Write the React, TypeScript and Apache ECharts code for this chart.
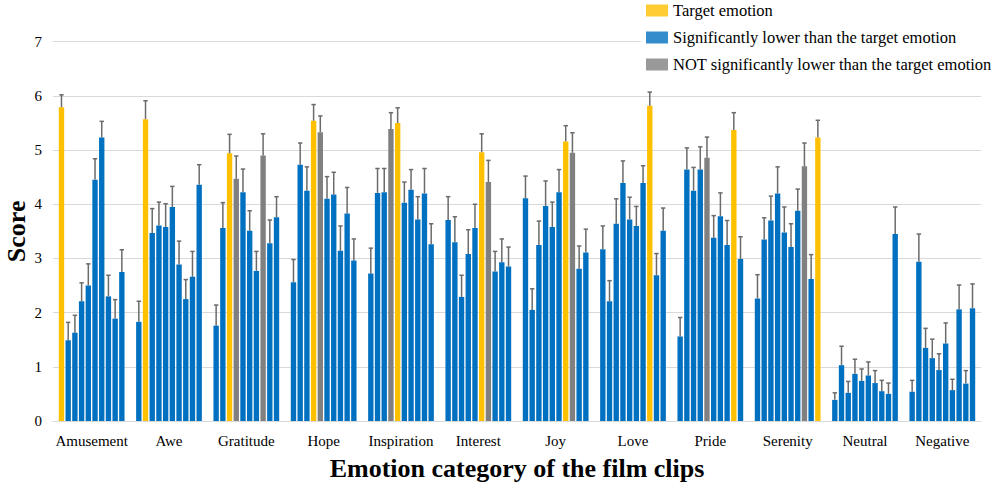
import React, { useEffect, useRef } from "react";
import * as echarts from "echarts";

const categories = ["Amusement", "Awe", "Gratitude", "Hope", "Inspiration", "Interest", "Joy", "Love", "Pride", "Serenity", "Neutral", "Negative"];
const ratedEmotions = ["Amusement", "Awe", "Gratitude", "Hope", "Inspiration", "Interest", "Joy", "Love", "Pride", "Serenity"];

// mean scores: one row per film-clip category, one column per rated emotion
const meanAmusement = [5.79, 1.49, 1.63, 2.21, 2.5, 4.45, 5.23, 2.3, 1.89, 2.75];
const meanAwe = [1.83, 5.57, 3.47, 3.61, 3.58, 3.95, 2.89, 2.25, 2.66, 4.36];
const meanGratitude = [1.76, 3.56, 4.94, 4.47, 4.22, 3.51, 2.77, 4.9, 3.28, 3.76];
const meanHope = [2.56, 4.73, 4.25, 5.54, 5.33, 4.1, 4.18, 3.14, 3.83, 2.96];
const meanInspiration = [2.72, 4.21, 4.22, 5.39, 5.5, 4.03, 4.27, 3.72, 4.2, 3.26];
const meanInterest = [3.71, 3.3, 2.29, 3.08, 3.56, 4.96, 4.41, 2.76, 2.93, 2.85];
const meanJoy = [4.11, 2.05, 3.25, 3.97, 3.58, 4.22, 5.16, 4.95, 2.81, 3.11];
const meanLove = [3.17, 2.21, 3.64, 4.39, 3.72, 3.6, 4.39, 5.82, 2.69, 3.51];
const meanPride = [1.56, 4.64, 4.25, 4.64, 4.86, 3.38, 3.78, 3.25, 5.37, 2.99];
const meanSerenity = [2.26, 3.35, 3.7, 4.2, 3.48, 3.21, 3.88, 4.7, 2.62, 5.23];
const meanNeutral = [0.39, 1.03, 0.52, 0.87, 0.74, 0.84, 0.7, 0.55, 0.5, 3.45];
const meanNegative = [0.54, 2.94, 1.35, 1.16, 0.94, 1.43, 0.57, 2.06, 0.69, 2.08];

// error bar sizes
const errAmusement = [0.23, 0.33, 0.32, 0.34, 0.4, 0.39, 0.3, 0.39, 0.35, 0.41];
const errAwe = [0.38, 0.34, 0.45, 0.43, 0.43, 0.38, 0.43, 0.36, 0.47, 0.37];
const errGratitude = [0.38, 0.47, 0.35, 0.42, 0.43, 0.37, 0.36, 0.4, 0.43, 0.38];
const errHope = [0.42, 0.4, 0.44, 0.3, 0.3, 0.41, 0.41, 0.46, 0.48, 0.4];
const errInspiration = [0.47, 0.45, 0.44, 0.3, 0.28, 0.38, 0.37, 0.42, 0.46, 0.38];
const errInterest = [0.43, 0.47, 0.4, 0.45, 0.44, 0.34, 0.4, 0.37, 0.43, 0.36];
const errJoy = [0.41, 0.39, 0.44, 0.46, 0.46, 0.42, 0.29, 0.37, 0.42, 0.43];
const errLove = [0.43, 0.38, 0.46, 0.41, 0.41, 0.36, 0.32, 0.25, 0.4, 0.42];
const errPride = [0.35, 0.4, 0.43, 0.42, 0.38, 0.41, 0.43, 0.45, 0.32, 0.41];
const errSerenity = [0.44, 0.4, 0.45, 0.49, 0.47, 0.43, 0.4, 0.43, 0.45, 0.32];
const errNeutral = [0.13, 0.35, 0.21, 0.27, 0.22, 0.25, 0.23, 0.2, 0.2, 0.5];
const errNegative = [0.21, 0.51, 0.36, 0.35, 0.3, 0.38, 0.2, 0.45, 0.24, 0.45];

// index of target emotion per category (-1: none)
const targetIndex = [0, 1, 2, 3, 4, 5, 6, 7, 8, 9, -1, -1];
// rated emotions NOT significantly lower than the target, per category
const notSignificant = [[], [], [3, 7], [4], [3], [6], [7], [], [4], [7], [], []];

const legendNames = ["Target emotion", "Significantly lower than the target emotion", "NOT significantly lower than the target emotion"];
const COLOR_TARGET = "#FFC000";
const COLOR_SIG = "#0070C0";
const COLOR_NS = "#808080";

const means = [meanAmusement, meanAwe, meanGratitude, meanHope, meanInspiration, meanInterest, meanJoy, meanLove, meanPride, meanSerenity, meanNeutral, meanNegative];
const errs = [errAmusement, errAwe, errGratitude, errHope, errInspiration, errInterest, errJoy, errLove, errPride, errSerenity, errNeutral, errNegative];

const FONT = "Liberation Serif";
const CAT_GAP = 0.15;
const BAR_GAP = 0.25;

function colorFor(c: number, s: number) {
  if (targetIndex[c] === s) return COLOR_TARGET;
  if (notSignificant[c].indexOf(s) >= 0) return COLOR_NS;
  return COLOR_SIG;
}

export default function App() {
  const ref = useRef<HTMLDivElement>(null);
  useEffect(() => {
    document.body.style.margin = "0";
    if (!ref.current) return;
    const chart = echarts.init(ref.current, null, { renderer: "svg" });
    const N = ratedEmotions.length;

    const barSeries = ratedEmotions.map((name, s) => ({
      name,
      type: "bar",
      barCategoryGap: CAT_GAP * 100 + "%",
      barGap: BAR_GAP * 100 + "%",
      data: categories.map((_, c) => ({ value: means[c][s], itemStyle: { color: colorFor(c, s) } })),
    }));

    const errData: number[][] = [];
    categories.forEach((_, c) => {
      ratedEmotions.forEach((__, s) => {
        errData.push([c, means[c][s], means[c][s] + errs[c][s], s]);
      });
    });

    const errorSeries = {
      name: "error",
      type: "custom",
      z: 3,
      encode: { x: 0, y: [1, 2] },
      data: errData,
      renderItem: (params: any, api: any) => {
        const cat = api.value(0);
        const v = api.value(1);
        const hi = api.value(2);
        const slot = api.value(3);
        const band = api.size([1, 0])[0];
        const remained = band * (1 - CAT_GAP);
        const bw = remained / (N + (N - 1) * BAR_GAP);
        const total = N * bw + (N - 1) * bw * BAR_GAP;
        const off = -total / 2 + slot * bw * (1 + BAR_GAP) + bw / 2;
        const p0 = api.coord([cat, v]);
        const p1 = api.coord([cat, hi]);
        const x = p0[0] + off;
        const st = { stroke: "#6b6b6b", lineWidth: 1.5 };
        return {
          type: "group",
          children: [
            { type: "line", shape: { x1: x, y1: p0[1], x2: x, y2: p1[1] }, style: st },
            { type: "line", shape: { x1: x - 2.2, y1: p1[1], x2: x + 2.2, y2: p1[1] }, style: st },
          ],
        };
      },
    };

    const legendSeries = legendNames.map((name, i) => ({
      name,
      type: "scatter",
      data: [],
      itemStyle: { color: [COLOR_TARGET, COLOR_SIG, COLOR_NS][i] },
    }));

    const legendText = { fontFamily: FONT, fontSize: 16.5, color: "#000" };

    chart.setOption({
      animation: false,
      textStyle: { fontFamily: FONT },
      grid: { left: 53, right: 19, top: 41.7, bottom: 66, containLabel: false, outerBoundsMode: "none" },
      legend: {
        data: legendNames.map((name) => ({ name, textStyle: legendText })),
        orient: "vertical",
        left: 641,
        top: 0,
        icon: "rect",
        itemWidth: 22,
        itemHeight: 12,
        itemGap: 10,
        padding: [2, 5, 3, 5],
        backgroundColor: "#fff",
        selectedMode: false,
        textStyle: legendText,
      },
      xAxis: {
        type: "category",
        data: categories,
        axisTick: { show: false },
        axisLine: { lineStyle: { color: "#d9d9d9", width: 1 } },
        axisLabel: { interval: 0, fontFamily: FONT, fontSize: 15, color: "#000", margin: 12 },
        name: "Emotion category of the film clips",
        nameLocation: "middle",
        nameGap: 34,
        nameMoveOverlap: false,
        nameTextStyle: { fontFamily: FONT, fontSize: 26, fontWeight: "bold", color: "#000" },
      },
      yAxis: {
        type: "value",
        min: 0,
        max: 7,
        interval: 1,
        axisLine: { show: false },
        axisTick: { show: false },
        splitLine: { lineStyle: { color: "#d9d9d9", width: 1 } },
        axisLabel: { fontFamily: FONT, fontSize: 15, color: "#000", margin: 11 },
        name: "Score",
        nameLocation: "middle",
        nameGap: 24,
        nameMoveOverlap: false,
        nameTextStyle: { fontFamily: FONT, fontSize: 26, fontWeight: "bold", color: "#000" },
      },
      series: [...barSeries, errorSeries, ...legendSeries],
    });
    return () => chart.dispose();
  }, []);
  return <div ref={ref} style={{ width: 1000, height: 487 }} />;
}
